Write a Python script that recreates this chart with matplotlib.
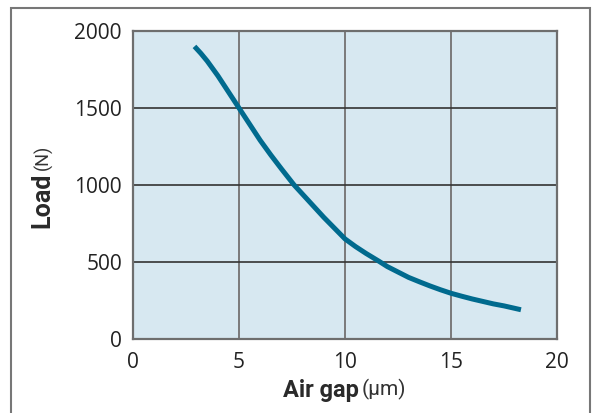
import matplotlib.pyplot as plt
from matplotlib.patches import Rectangle

# air gap (um) vs load (N)
air_gap = [2.9, 3.2, 3.5, 4.0, 4.5, 5.0, 5.5, 6.0, 6.5, 7.0, 7.6, 8.0, 8.5, 9.0, 9.5, 10.0, 10.5, 11.0, 11.6,
           12.0, 12.5, 13.0, 13.5, 14.0, 14.5, 15.0, 15.5, 16.0, 16.5, 17.0, 17.5, 18.3]
load = [1900, 1855, 1805, 1710, 1605, 1500, 1395, 1290, 1195, 1105, 1000, 940, 865, 790, 720, 650, 600, 555, 505,
        470, 435, 400, 372, 345, 320, 297, 278, 260, 244, 228, 215, 190]

x_ticks = [0, 5, 10, 15, 20]
y_ticks = [0, 500, 1000, 1500, 2000]

fig = plt.figure(figsize=(5.95, 4.13), dpi=100)
ax = fig.add_axes([133/595, 74/413, 424/595, 308/413])

ax.set_facecolor('#d7e8f1')
ax.plot(air_gap, load, color='#006a8e', lw=3.6, solid_capstyle='butt', zorder=3)

ax.set_xlim(0, 20)
ax.set_ylim(0, 2000)
ax.set_xticks(x_ticks)
ax.set_yticks(y_ticks)
ax.set_xticklabels([str(t) for t in x_ticks], fontfamily='Open Sans', fontsize=15, color='#222222')
ax.set_yticklabels([str(t) for t in y_ticks], fontfamily='Open Sans', fontsize=15, color='#222222')
ax.tick_params(axis='both', length=0)
ax.tick_params(axis='x', pad=9)
ax.tick_params(axis='y', pad=8)

for v in x_ticks[1:-1]:
    ax.axvline(v, color='#7a7a7a', lw=1.4, zorder=1)
for v in y_ticks[1:-1]:
    ax.axhline(v, color='#333333', lw=1.2, zorder=1)

for s in ax.spines.values():
    s.set_color('#6e6e6e')
    s.set_linewidth(1.6)

r = fig.canvas.get_renderer()
W, H = 595, 413

# x label: "Air gap" bold + smaller "(um)"
t1 = fig.text(283/W, 1 - 390/H, 'Air gap', family='Roboto', fontweight='bold', fontsize=17,
              color='#2a2a2a', ha='left', va='center')
bb = t1.get_window_extent(r)
fig.text((bb.x1 + 3)/W, 1 - 389/H, '(\u03bcm)', family='Roboto', fontsize=15,
         color='#333333', ha='left', va='center')

# y label: "Load" bold + smaller "(N)"
t2 = fig.text(42/W, 1 - 228/H, 'Load', family='Roboto', fontweight='bold', fontsize=18,
              color='#2a2a2a', ha='center', va='bottom', rotation=90)
bb = t2.get_window_extent(r)
fig.text(43/W, (bb.y1 + 3)/H, '(N)', family='Roboto', fontsize=13,
         color='#333333', ha='center', va='bottom', rotation=90)

# outer frame
fig.patches.append(Rectangle((11/W, -0.05), 579/W, 1.05 - 8/H, transform=fig.transFigure,
                             fill=False, edgecolor='#777777', lw=1.5, clip_on=False))

fig.savefig('out.png', dpi=100)
